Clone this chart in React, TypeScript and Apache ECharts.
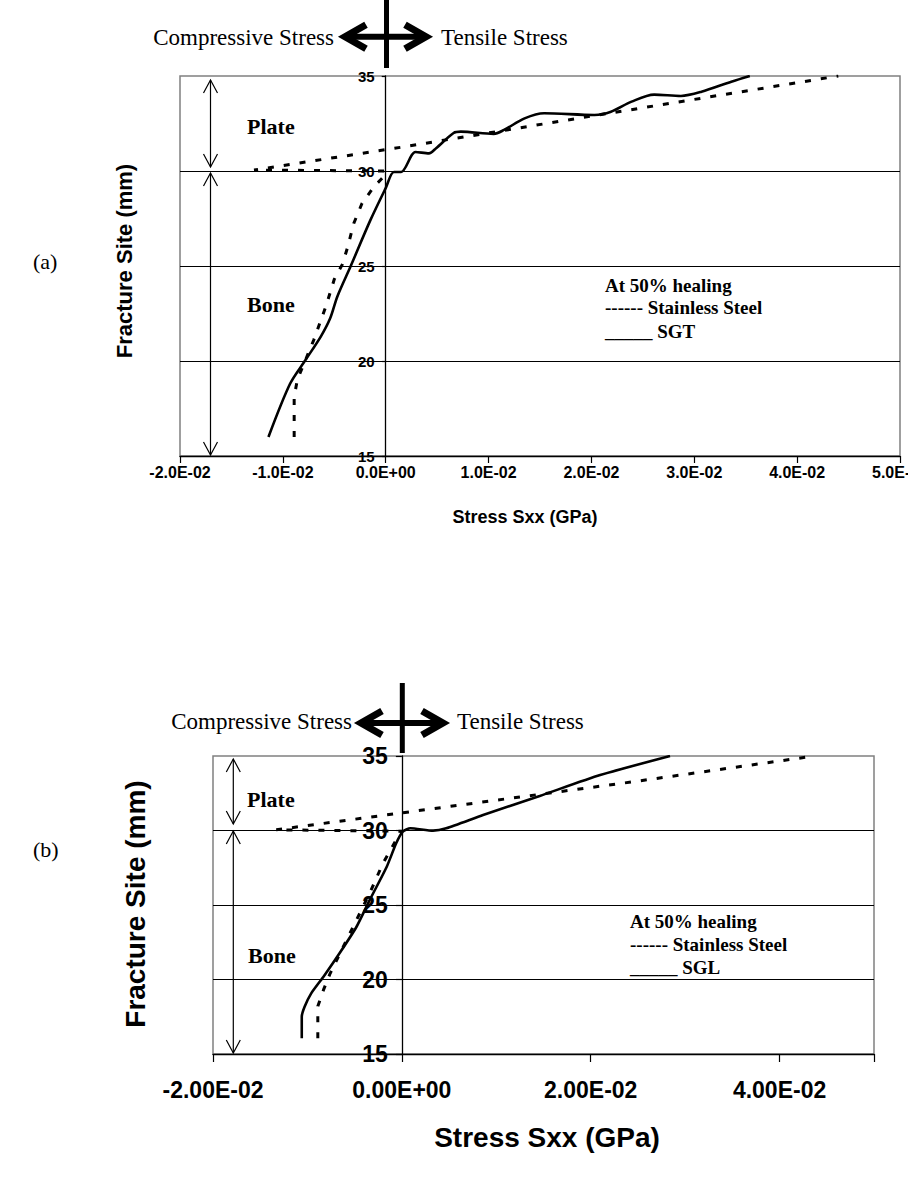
import React, { useEffect, useRef } from "react";
import * as echarts from "echarts";

// ---------- data ----------
const xTicksA = ["-2.0E-02", "-1.0E-02", "0.0E+00", "1.0E-02", "2.0E-02", "3.0E-02", "4.0E-02", "5.0E-02"];
const xTicksB = ["-2.00E-02", "0.00E+00", "2.00E-02", "4.00E-02"];
const yTicks = ["15", "20", "25", "30", "35"];

// Panel (a): Stainless Steel (dashed) [stress, site]
const steelA: [number, number][] = [
  [-0.0089, 16.0], [-0.0089, 18.1], [-0.0086, 19.0], [-0.0078, 20.05], [-0.007, 21.1],
  [-0.0058, 22.9], [-0.005, 24.3], [-0.0042, 25.1], [-0.0037, 26.0], [-0.0031, 27.25],
  [-0.0023, 28.3], [-0.0011, 29.2], [-0.0002, 29.7], [0.0, 30.0], [-0.0128, 30.05],
  [0.0015, 31.25], [0.019, 32.8], [0.044, 35.0],
];
// Panel (a): SGT (solid)
const sgtA: [number, number][] = [
  [-0.0114, 16.0], [-0.0093, 18.8], [-0.0078, 20.05], [-0.0063, 21.3], [-0.0054, 22.25],
  [-0.0047, 23.4], [-0.0034, 25.0], [-0.0015, 27.4], [0.0, 29.1], [0.0008, 29.95],
  [0.0015, 29.95], [0.0029, 31.0], [0.0042, 30.93], [0.0049, 31.2], [0.0066, 32.0],
  [0.0073, 32.07], [0.0105, 31.95], [0.0115, 32.16], [0.0135, 32.77], [0.0154, 33.04],
  [0.0203, 32.95], [0.0219, 33.12], [0.0239, 33.65], [0.0261, 34.02], [0.0287, 33.95],
  [0.0307, 34.17], [0.0336, 34.7], [0.0354, 35.0],
];
// Panel (b): Stainless Steel (dashed)
const steelB: [number, number][] = [
  [-0.0089, 16.05], [-0.0089, 18.2], [-0.0083, 19.3], [-0.0076, 20.4], [-0.0062, 22.2],
  [-0.0048, 24.0], [-0.0034, 25.8], [-0.002, 27.8], [-0.0007, 29.25], [0.0, 29.95],
  [-0.0133, 30.05], [0.0009, 31.26], [0.0245, 33.27], [0.0437, 35.0],
];
// Panel (b): SGL (solid)
const sglB: [number, number][] = [
  [-0.0106, 16.05], [-0.0106, 17.5], [-0.0103, 18.17], [-0.0096, 19.07], [-0.0083, 20.19],
  [-0.0066, 21.76], [-0.0048, 23.54], [-0.0034, 25.34], [-0.0016, 27.57], [-0.0006, 29.14],
  [0.0001, 29.92], [0.0009, 30.15], [0.0033, 29.99], [0.0047, 30.15], [0.0086, 31.04],
  [0.0146, 32.32], [0.021, 33.72], [0.0284, 35.0],
];

const SANS = "'Liberation Sans', Arial, sans-serif";
const SERIF = "'Liberation Serif', 'Times New Roman', serif";

function txt(text: string, x: number, y: number, size: number, opts: any = {}) {
  const align = opts.align || "left";
  return {
    type: "text",
    x,
    y,
    rotation: opts.rotation || 0,
    style: {
      text,
      fill: "#000",
      fontSize: size,
      fontFamily: opts.family || SERIF,
      fontWeight: opts.bold ? "bold" : "normal",
      align,
      textAlign: align,
      verticalAlign: "middle",
      textVerticalAlign: "middle",
    },
  };
}

function dblArrow(x: number, y1: number, y2: number) {
  const st = { stroke: "#000", lineWidth: 1.2, fill: "none" };
  return [
    { type: "line", shape: { x1: x, y1, x2: x, y2 }, style: st },
    { type: "polyline", shape: { points: [[x - 7, y1 + 13], [x, y1], [x + 7, y1 + 13]] }, style: st },
    { type: "polyline", shape: { points: [[x - 7, y2 - 13], [x, y2], [x + 7, y2 - 13]] }, style: st },
  ];
}

function bigArrow(cx: number, cy: number, barTop: number, barBottom: number, left: number, right: number) {
  const st = { stroke: "#000", lineWidth: 7, fill: "none", lineJoin: "miter" };
  return [
    { type: "line", shape: { x1: left + 3, y1: cy, x2: right - 3, y2: cy }, style: { stroke: "#000", lineWidth: 6 } },
    { type: "polyline", shape: { points: [[left + 24, cy - 12], [left + 3, cy], [left + 24, cy + 12]] }, style: st },
    { type: "polyline", shape: { points: [[right - 24, cy - 12], [right - 3, cy], [right - 24, cy + 12]] }, style: st },
    { type: "line", shape: { x1: cx, y1: barTop, x2: cx, y2: barBottom }, style: { stroke: "#000", lineWidth: 5 } },
  ];
}

export default function App() {
  const ref = useRef<HTMLDivElement>(null);

  useEffect(() => {
    if (!ref.current) return;
    const chart = echarts.init(ref.current, null, { renderer: "svg" });

    const xAxisBase = (gridIndex: number, interval: number, labels: string[], fontSize: number, margin: number, tick: number) => ({
      type: "value",
      gridIndex,
      min: -0.02,
      max: 0.05,
      interval,
      axisLine: { show: true, onZero: false, lineStyle: { color: "#000", width: 1.3 } },
      axisTick: { show: true, length: tick, lineStyle: { color: "#000", width: 1.2 } },
      splitLine: { show: false },
      axisLabel: {
        color: "#000",
        fontFamily: SANS,
        fontWeight: "bold",
        fontSize,
        margin,
        showMinLabel: true,
        showMaxLabel: true,
        formatter: (v: number) => labels[Math.round((v + 0.02) / interval)] ?? "",
      },
    });

    // y axis is placed at stress = 0 through a negative offset from the grid's left edge
    const yAxisBase = (gridIndex: number, fontSize: number, margin: number, tick: number, offset: number) => ({
      type: "value",
      gridIndex,
      position: "left",
      offset,
      min: 15,
      max: 35,
      interval: 5,
      axisLine: { show: true, onZero: false, lineStyle: { color: "#000", width: 1.3 } },
      axisTick: { show: true, length: tick, lineStyle: { color: "#000", width: 1.2 } },
      splitLine: { show: true, showMinLine: false, showMaxLine: false, lineStyle: { color: "#000", width: 1.2 } },
      axisLabel: {
        color: "#000",
        fontFamily: SANS,
        fontWeight: "bold",
        fontSize,
        margin,
        showMinLabel: true,
        showMaxLabel: true,
        formatter: (v: number) => yTicks[Math.round((v - 15) / 5)] ?? "",
      },
    });

    const dashed = { color: "#000", width: 3, type: [6, 10] as any };
    const solid = { color: "#000", width: 2.6, type: "solid" };

    const graphic: any[] = [
      // panel (a) header arrows
      ...bigArrow(386.5, 36.7, 0, 68, 342, 429),
      txt("Compressive Stress", 334, 37, 23, { align: "right" }),
      txt("Tensile Stress", 441, 37, 23),
      // panel (a) annotations
      ...dblArrow(210.5, 80, 167),
      ...dblArrow(210.5, 173, 455),
      txt("Plate", 247, 126, 22, { bold: true }),
      txt("Bone", 247, 304, 22, { bold: true }),
      txt("At 50% healing", 605, 285, 19, { bold: true }),
      txt("------ Stainless Steel", 605, 307.5, 19, { bold: true }),
      txt("_____ SGT", 605, 331, 19, { bold: true }),
      txt("(a)", 33, 261, 22),
      txt("Fracture Site (mm)", 124, 261, 22, { family: SANS, bold: true, align: "center", rotation: Math.PI / 2 }),
      txt("Stress Sxx (GPa)", 525, 517, 18, { family: SANS, bold: true, align: "center" }),
      // panel (b) header arrows
      ...bigArrow(402.3, 723, 683, 753, 358, 446),
      txt("Compressive Stress", 352, 721, 23, { align: "right" }),
      txt("Tensile Stress", 457, 721, 23),
      // panel (b) annotations
      ...dblArrow(233.3, 759, 824),
      ...dblArrow(233.3, 831, 1053),
      txt("Plate", 247, 799, 22, { bold: true }),
      txt("Bone", 248, 955, 22, { bold: true }),
      txt("At 50% healing", 630, 921, 19, { bold: true }),
      txt("------ Stainless Steel", 630, 944, 19, { bold: true }),
      txt("_____ SGL", 630, 967.5, 19, { bold: true }),
      txt("(b)", 33, 849, 22),
      txt("Fracture Site (mm)", 135, 904, 28, { family: SANS, bold: true, align: "center", rotation: Math.PI / 2 }),
      txt("Stress Sxx (GPa)", 547, 1137, 28, { family: SANS, bold: true, align: "center" }),
    ];

    // grid pixel extents
    const gA = { left: 180, right: 8, top: 76, bottom: 722 };
    const gB = { left: 213, right: 34, top: 756, bottom: 124 };
    const zeroOffset = (g: { left: number; right: number }) => -((908 - g.left - g.right) * (0.02 / 0.07));

    chart.setOption({
      animation: false,
      backgroundColor: "#fff",
      grid: [
        { ...gA, outerBoundsMode: "none", containLabel: false, show: true, borderColor: "#808080", borderWidth: 1.5, backgroundColor: "transparent" },
        { ...gB, outerBoundsMode: "none", containLabel: false, show: true, borderColor: "#808080", borderWidth: 1.5, backgroundColor: "transparent" },
      ],
      xAxis: [xAxisBase(0, 0.01, xTicksA, 16, 8, 7), xAxisBase(1, 0.02, xTicksB, 23, 24, 8)],
      yAxis: [yAxisBase(0, 15, 11, 4, zeroOffset(gA)), yAxisBase(1, 23, 14, 6, zeroOffset(gB))],
      series: [
        { name: "Stainless Steel (a)", type: "line", xAxisIndex: 0, yAxisIndex: 0, data: steelA, symbol: "none", lineStyle: dashed, z: 3 },
        { name: "SGT", type: "line", xAxisIndex: 0, yAxisIndex: 0, data: sgtA, symbol: "none", smooth: 0.3, lineStyle: solid, z: 4 },
        { name: "Stainless Steel (b)", type: "line", xAxisIndex: 1, yAxisIndex: 1, data: steelB, symbol: "none", lineStyle: dashed, z: 3 },
        { name: "SGL", type: "line", xAxisIndex: 1, yAxisIndex: 1, data: sglB, symbol: "none", smooth: 0.2, lineStyle: solid, z: 4 },
      ],
      graphic,
    });

    return () => chart.dispose();
  }, []);

  return <div ref={ref} style={{ position: "absolute", left: 0, top: 0, width: 908, height: 1178 }} />;
}
